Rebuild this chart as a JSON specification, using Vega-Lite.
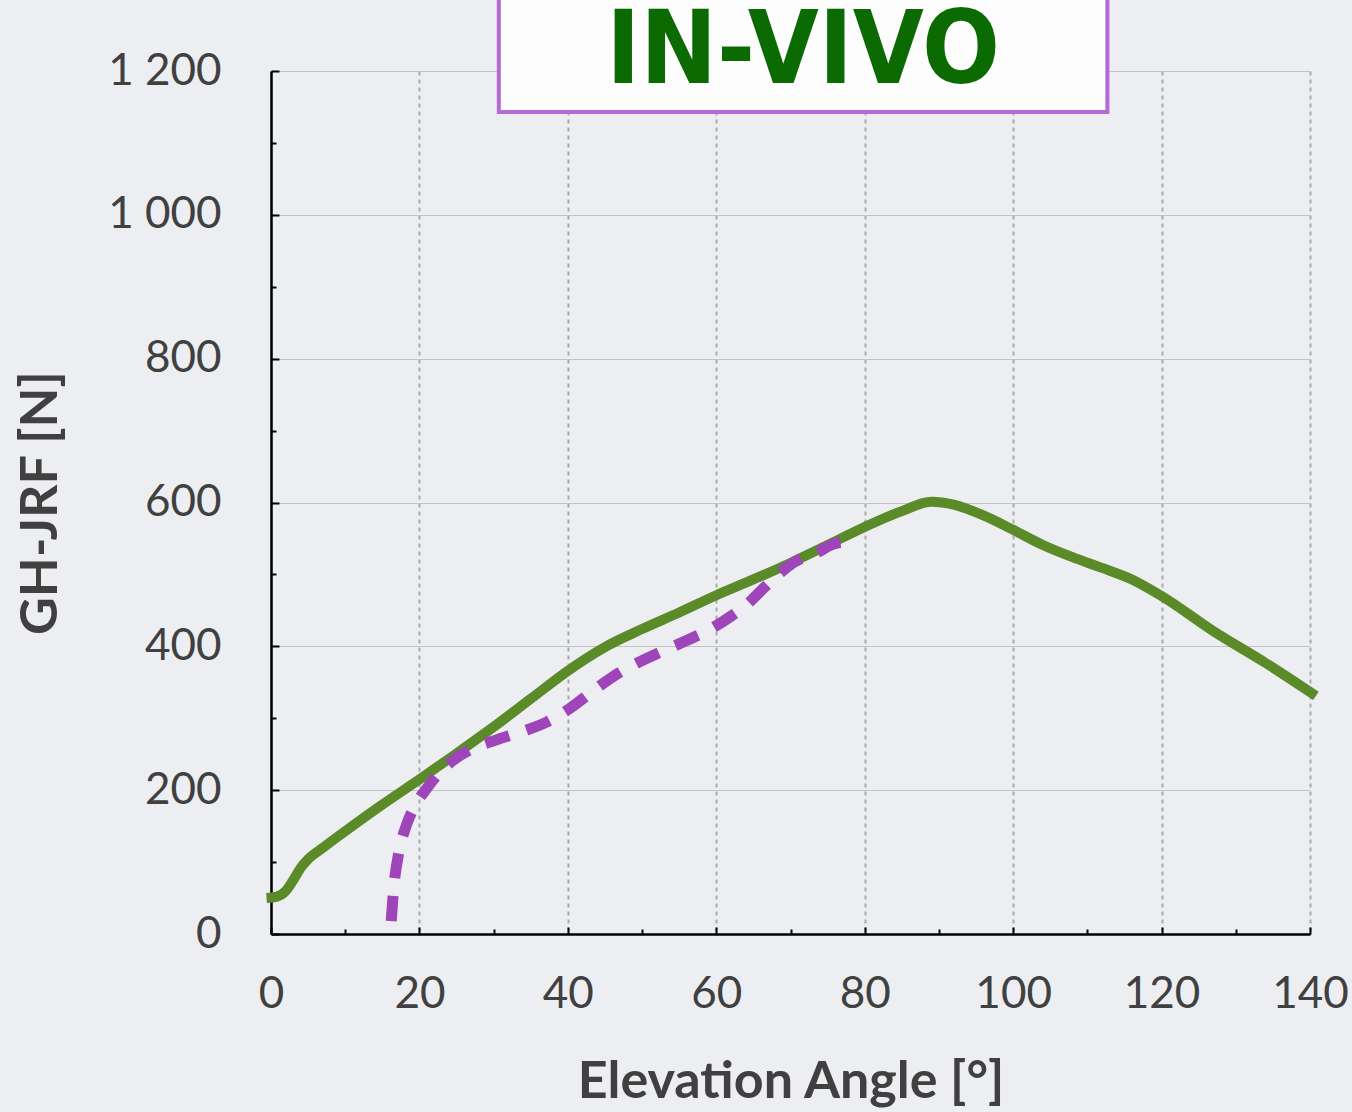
{
  "$schema": "https://vega.github.io/schema/vega-lite/v6.json",
  "width": 1039,
  "height": 863,
  "autosize": {"type": "none"},
  "padding": {"left": 271, "top": 71, "right": 42, "bottom": 178},
  "background": "#eceef1",
  "config": {
    "view": {"stroke": null},
    "axis": {
      "labelFont": "Lato",
      "labelFontSize": 44,
      "labelColor": "#404040",
      "labelFlush": false,
      "titleFont": "Lato",
      "titleFontSize": 52,
      "titleFontWeight": "bold",
      "titleColor": "#404040",
      "domainColor": "#000000",
      "tickColor": "#000000"
    }
  },
  "datasets": {
    "curves": [
      {"series": "Measured", "angle": -0.6, "force": 50},
      {"series": "Measured", "angle": 0.8, "force": 52},
      {"series": "Measured", "angle": 2, "force": 60},
      {"series": "Measured", "angle": 3, "force": 75},
      {"series": "Measured", "angle": 4, "force": 92},
      {"series": "Measured", "angle": 5, "force": 104},
      {"series": "Measured", "angle": 7, "force": 120},
      {"series": "Measured", "angle": 10, "force": 143},
      {"series": "Measured", "angle": 15, "force": 180},
      {"series": "Measured", "angle": 20, "force": 215},
      {"series": "Measured", "angle": 25, "force": 251},
      {"series": "Measured", "angle": 30, "force": 288},
      {"series": "Measured", "angle": 35, "force": 327},
      {"series": "Measured", "angle": 40, "force": 366},
      {"series": "Measured", "angle": 45, "force": 399},
      {"series": "Measured", "angle": 50, "force": 424},
      {"series": "Measured", "angle": 55, "force": 447},
      {"series": "Measured", "angle": 60, "force": 471},
      {"series": "Measured", "angle": 65, "force": 493},
      {"series": "Measured", "angle": 70, "force": 516},
      {"series": "Measured", "angle": 75, "force": 541},
      {"series": "Measured", "angle": 80, "force": 566},
      {"series": "Measured", "angle": 85, "force": 588},
      {"series": "Measured", "angle": 89, "force": 601},
      {"series": "Measured", "angle": 92, "force": 597},
      {"series": "Measured", "angle": 96, "force": 582},
      {"series": "Measured", "angle": 100, "force": 562},
      {"series": "Measured", "angle": 104, "force": 541},
      {"series": "Measured", "angle": 108, "force": 524},
      {"series": "Measured", "angle": 112, "force": 509},
      {"series": "Measured", "angle": 116, "force": 493},
      {"series": "Measured", "angle": 120, "force": 470},
      {"series": "Measured", "angle": 127, "force": 421},
      {"series": "Measured", "angle": 134, "force": 377},
      {"series": "Measured", "angle": 140.8, "force": 331},
      {"series": "Simulated", "angle": 16.2, "force": 18},
      {"series": "Simulated", "angle": 16.5, "force": 60},
      {"series": "Simulated", "angle": 17.2, "force": 112},
      {"series": "Simulated", "angle": 18.2, "force": 150},
      {"series": "Simulated", "angle": 19.6, "force": 182},
      {"series": "Simulated", "angle": 20.8, "force": 200},
      {"series": "Simulated", "angle": 22.5, "force": 222},
      {"series": "Simulated", "angle": 24.1, "force": 238},
      {"series": "Simulated", "angle": 27, "force": 257},
      {"series": "Simulated", "angle": 30.4, "force": 270},
      {"series": "Simulated", "angle": 34, "force": 282},
      {"series": "Simulated", "angle": 37.2, "force": 295},
      {"series": "Simulated", "angle": 40.3, "force": 314},
      {"series": "Simulated", "angle": 43, "force": 335},
      {"series": "Simulated", "angle": 46.1, "force": 358},
      {"series": "Simulated", "angle": 49, "force": 375},
      {"series": "Simulated", "angle": 52.7, "force": 393},
      {"series": "Simulated", "angle": 56, "force": 408},
      {"series": "Simulated", "angle": 59.4, "force": 425},
      {"series": "Simulated", "angle": 62, "force": 442},
      {"series": "Simulated", "angle": 64.1, "force": 458},
      {"series": "Simulated", "angle": 66.5, "force": 482},
      {"series": "Simulated", "angle": 68.6, "force": 502},
      {"series": "Simulated", "angle": 70.5, "force": 517},
      {"series": "Simulated", "angle": 72, "force": 525},
      {"series": "Simulated", "angle": 73.5, "force": 530},
      {"series": "Simulated", "angle": 75.5, "force": 541},
      {"series": "Simulated", "angle": 77, "force": 545},
      {"series": "Simulated", "angle": 77.9, "force": 535}
    ]
  },
  "layer": [
    {
      "data": {"name": "curves"},
      "transform": [{"filter": "datum.series == 'Measured'"}],
      "mark": {"type": "line", "color": "#5b8a29", "strokeWidth": 10, "interpolate": "monotone"},
      "encoding": {
        "x": {
          "field": "angle", "type": "quantitative",
          "scale": {"domain": [0, 140], "nice": false, "zero": false},
          "axis": {
            "orient": "bottom",
            "values": [0, 20, 40, 60, 80, 100, 120, 140],
            "title": "Elevation Angle [°]",
            "grid": true, "gridColor": "#aaaaaa", "gridWidth": 2, "gridDash": [4, 4],
            "tickSize": -7, "tickWidth": 2,
            "domainWidth": 2.5,
            "labelPadding": 45,
            "titlePadding": 40
          }
        },
        "y": {
          "field": "force", "type": "quantitative",
          "scale": {"domain": [0, 1200], "nice": false},
          "axis": {
            "orient": "left",
            "values": [0, 200, 400, 600, 800, 1000, 1200],
            "title": "GH-JRF [N]",
            "labelExpr": "replace(format(datum.value, ','), ',', ' ')",
            "grid": true, "gridColor": "#c2c2c2", "gridWidth": 1,
            "tickSize": -8, "tickWidth": 2,
            "domainWidth": 2.5,
            "labelPadding": 58,
            "titlePadding": 40
          }
        }
      }
    },
    {
      "data": {"name": "curves"},
      "transform": [{"filter": "datum.series == 'Simulated'"}],
      "mark": {"type": "line", "color": "#9d45b9", "strokeWidth": 11, "strokeDash": [25, 18], "interpolate": "monotone"},
      "encoding": {
        "x": {
          "field": "angle", "type": "quantitative",
          "axis": {
            "orient": "bottom",
            "values": [10, 30, 50, 70, 90, 110, 130],
            "title": null, "labels": false, "domain": false, "grid": false,
            "tickSize": -5, "tickWidth": 2
          }
        },
        "y": {
          "field": "force", "type": "quantitative",
          "axis": {
            "orient": "left",
            "values": [100, 300, 500, 700, 900, 1100],
            "title": null, "labels": false, "domain": false, "grid": false,
            "tickSize": -5, "tickWidth": 2
          }
        }
      }
    },
    {
      "data": {"values": [{"label": "IN-VIVO"}]},
      "mark": {"type": "rect", "fill": "#fdfdfd", "stroke": "#b46ad9", "strokeWidth": 4},
      "encoding": {
        "x": {"datum": 30.7, "axis": null},
        "x2": {"datum": 112.7},
        "y": {"datum": 1143, "axis": null},
        "y2": {"datum": 1340}
      }
    },
    {
      "data": {"values": [{"label": "IN-VIVO"}]},
      "mark": {"type": "text", "font": "DejaVu Sans Condensed, DejaVu Sans, sans-serif", "fontWeight": "bold", "fontSize": 102, "color": "#0b6a02", "align": "center", "baseline": "alphabetic"},
      "encoding": {
        "text": {"field": "label"},
        "x": {"datum": 71.7, "axis": null},
        "y": {"datum": 1184, "axis": null}
      }
    }
  ],
  "resolve": {"axis": {"x": "independent", "y": "independent"}}
}
